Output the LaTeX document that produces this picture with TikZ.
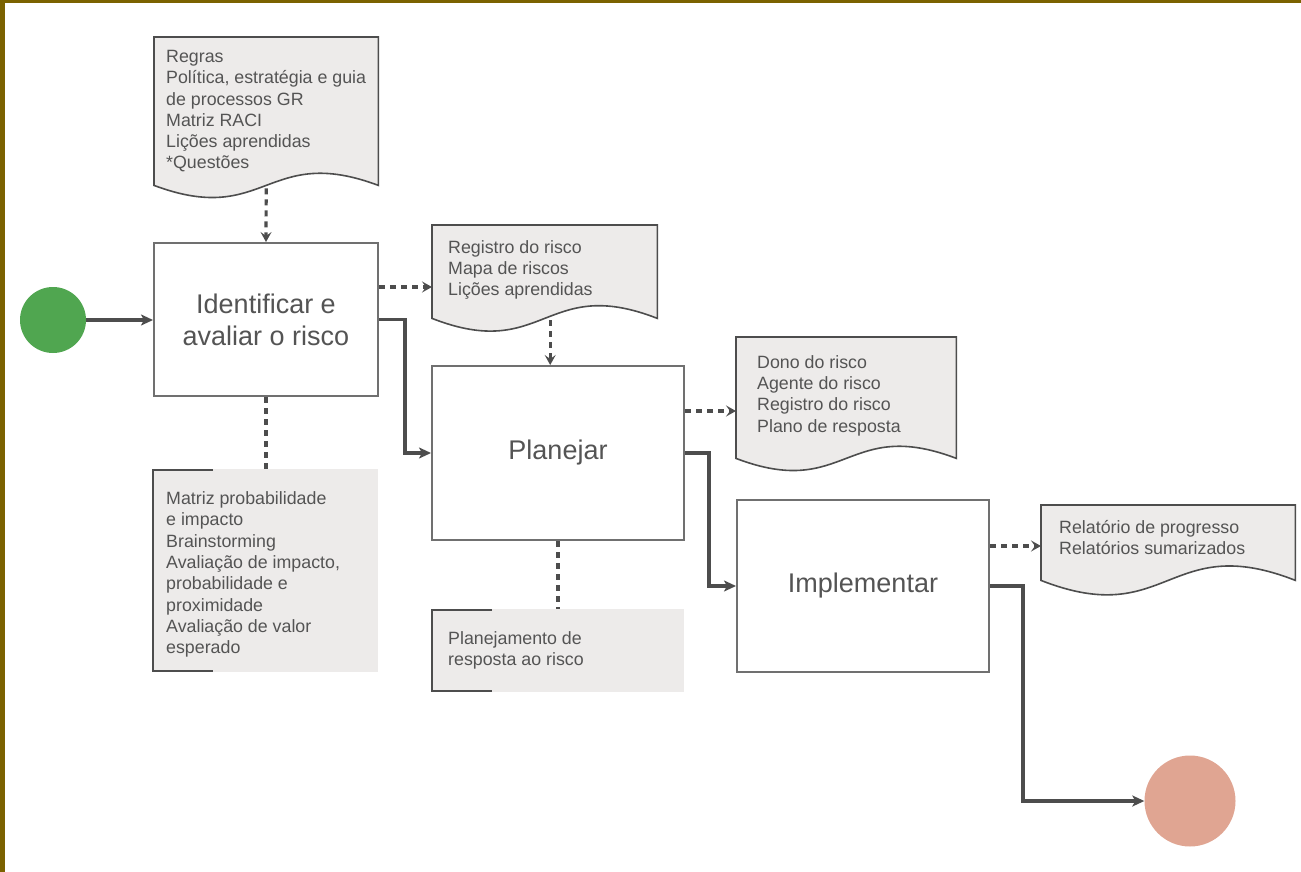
\documentclass[tikz,border=0pt]{standalone}
\usepackage{fontspec}
\setmainfont{Liberation Sans}
\usetikzlibrary{arrows.meta,calc}

\definecolor{frame}{RGB}{123,98,0}
\definecolor{ink}{RGB}{84,84,84}
\definecolor{boxline}{RGB}{112,112,112}
\definecolor{wire}{RGB}{77,77,77}
\definecolor{paper}{RGB}{237,235,234}
\definecolor{startgreen}{RGB}{80,166,80}
\definecolor{endsalmon}{RGB}{224,165,146}

% document symbol: flat top, wavy bottom; #1 = area node, #2 = wave bulge
\newcommand{\wavedoc}[2]{%
  \path[docedge] (#1.north west) -- (#1.north east) -- (#1.south east)
    .. controls ($(#1.south)+(0,-#2)$) and ($(#1.south)+(0,#2)$) .. (#1.south west) -- cycle;}

\begin{document}
\begin{tikzpicture}[x=1pt,y=-1pt,
  process/.style={draw=boxline, line width=2pt, fill=white, inner sep=0pt,
    font=\fontsize{27}{32.3}\selectfont, text=ink, align=center},
  docarea/.style={inner sep=0pt, anchor=north west},
  docedge/.style={draw=wire, line width=1.6pt, fill=paper},
  toolarea/.style={fill=paper, inner sep=0pt, anchor=north west},
  bracket/.style={draw=wire, line width=2pt},
  label/.style={inner sep=0pt, anchor=north west, align=left, text=ink,
    font=\fontsize{17.8}{21.3}\selectfont},
  terminal/.style={circle, inner sep=0pt},
  flow/.style={draw=wire, line width=3.2pt, -{Stealth[length=12pt,width=11pt,inset=3pt]}},
  dataflow/.style={draw=wire, line width=3.2pt, dash pattern=on 6pt off 5pt,
    -{Stealth[length=10pt,width=11pt,inset=4pt]}},
  link/.style={draw=wire, line width=3.2pt, dash pattern=on 6pt off 5pt},
]

% canvas and frame
\fill[white] (0,0) rectangle (1301,872);
\useasboundingbox (0,0) rectangle (1301,872);
\fill[frame] (0,0) rectangle (1301,3.5);
\fill[frame] (0,0) rectangle (5,872);

% start / end
\node[terminal, fill=startgreen, minimum size=66pt] (start) at (53,320) {};
\node[terminal, fill=endsalmon, minimum size=91pt] (finish) at (1190,801) {};

% process steps
\node[process, minimum width=224pt, minimum height=153pt] (b1) at (266,319.5)
  {Identificar e\\avaliar o risco};
\node[process, minimum width=252pt, minimum height=174pt] (b2) at (558,453) {Planejar};
\node[process, minimum width=252pt, minimum height=172pt] (b3) at (863,586) {Implementar};

% documents
\node[docarea, minimum width=224pt, minimum height=148pt] (d1) at (154,37) {};
\wavedoc{d1}{42}
\node[label] (d1t) at (166,50)
  {Regras\\Política, estratégia e guia\\de processos GR\\Matriz RACI\\Lições aprendidas\\*Questões};

\node[docarea, minimum width=225pt, minimum height=93pt] (d2) at (432,225) {};
\wavedoc{d2}{44}
\node[label] (d2t) at (448,240) {Registro do risco\\Mapa de riscos\\Lições aprendidas};

\node[docarea, minimum width=220pt, minimum height=121pt] (d3) at (736,337) {};
\wavedoc{d3}{42}
\node[label] (d3t) at (757,355)
  {Dono do risco\\Agente do risco\\Registro do risco\\Plano de resposta};

\node[docarea, minimum width=254pt, minimum height=75pt] (d4) at (1041,505) {};
\wavedoc{d4}{50}
\node[label] (d4t) at (1059,520) {Relatório de progresso\\Relatórios sumarizados};

% tools and techniques
\node[toolarea, minimum width=225pt, minimum height=203pt] (t1) at (153,469) {};
\draw[bracket] ($(t1.north west)+(60,1)$) -- ($(t1.north west)+(0,1)$)
  -- ($(t1.south west)+(0,-1)$) -- ($(t1.south west)+(60,-1)$);
\node[label] (t1t) at (166,491.5)
  {Matriz probabilidade\\e impacto\\Brainstorming\\Avaliação de impacto,\\probabilidade e\\proximidade\\Avaliação de valor\\esperado};

\node[toolarea, minimum width=252pt, minimum height=83pt] (t2) at (432,609) {};
\draw[bracket] ($(t2.north west)+(60,1)$) -- ($(t2.north west)+(0,1)$)
  -- ($(t2.south west)+(0,-1)$) -- ($(t2.south west)+(60,-1)$);
\node[label] (t2t) at (448,631.5) {Planejamento de\\resposta ao risco};

% main flow
\draw[flow] (start.east) -- (start.east -| b1.west);
\draw[flow] (b1.east) -- ++(26,0) |- (b2.west);
\draw[flow] (b2.east) -- ++(24,0) |- (b3.west);
\draw[flow] (b3.east) -- ++(33,0) |- (finish.west);

% inputs and outputs
\draw[dataflow] ($(d1.south)+(0,3)$) -- (b1.north);
\coordinate (o1) at ([yshift=32.5pt]b1.east);
\draw[dataflow] (o1) -- (o1 -| d2.west);
\coordinate (o2) at ($(d2.south)+(5.5,2)$);
\draw[dataflow] (o2) -- (o2 |- b2.north);
\coordinate (o3) at ([yshift=42pt]b2.east);
\draw[dataflow] (o3) -- (o3 -| d3.west);
\coordinate (o4) at ([yshift=40pt]b3.east);
\draw[dataflow] (o4) -- (o4 -| d4.west);

% links to techniques
\draw[link] (b1.south) -- (b1.south |- t1.north);
\draw[link] (b2.south) -- (b2.south |- t2.north);

\end{tikzpicture}
\end{document}
